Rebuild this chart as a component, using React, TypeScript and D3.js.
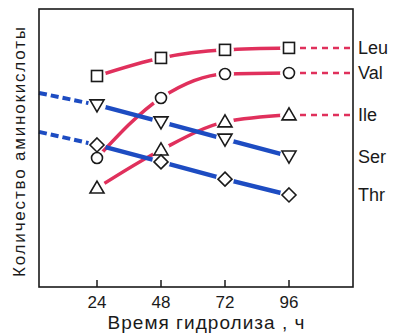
import React from "react";
import * as d3 from "d3";

const hours = [24, 48, 72, 96];
const tickLabels = ["24", "48", "72", "96"];
const leu = [75.9, 82.4, 85.3, 86.0];
const val = [46.4, 68.0, 76.6, 77.0];
const ile = [35.6, 49.3, 59.4, 61.9];
const ser = [65.5, 59.4, 53.2, 47.1];
const thr = [51.1, 45.0, 38.8, 33.1];
const serStart = 69.8;
const thrStart = 55.8;
const names = ["Leu", "Val", "Ile", "Ser", "Thr"];

const W = 396, H = 335;
const left = 39, right = 353, top = 9, bottom = 287;
const RED = "#e0305c";
const BLUE = "#1d4cc2";
const INK = "#1a1a1a";
const FONT = "'Liberation Sans', Arial, sans-serif";

export default function App() {
  const x = d3.scaleLinear().domain([2.25, 120]).range([left, right]);
  const y = d3.scaleLinear().domain([0, 100]).range([bottom, top]);

  const series = [
    { name: "Leu", v: leu, color: RED, shape: "square", kind: "up" },
    { name: "Val", v: val, color: RED, shape: "circle", kind: "up" },
    { name: "Ile", v: ile, color: RED, shape: "triangle", kind: "up" },
    { name: "Ser", v: ser, color: BLUE, shape: "triangleDown", kind: "down", start: serStart },
    { name: "Thr", v: thr, color: BLUE, shape: "diamond", kind: "down", start: thrStart },
  ];

  const curved = d3
    .line<[number, number]>()
    .x((d) => x(d[0]))
    .y((d) => y(d[1]))
    .curve(d3.curveMonotoneX);
  const straight = d3
    .line<[number, number]>()
    .x((d) => x(d[0]))
    .y((d) => y(d[1]));

  const marker = (shape: string, cx: number, cy: number, key: string) => {
    const common = { fill: "#fff", stroke: INK, strokeWidth: 1.6, key };
    if (shape === "square") return <rect {...common} x={cx - 5.5} y={cy - 5.5} width={11} height={11} />;
    if (shape === "circle") return <circle {...common} cx={cx} cy={cy} r={5.5} />;
    if (shape === "triangle")
      return <path {...common} d={`M${cx},${cy - 7}L${cx + 7},${cy + 5}L${cx - 7},${cy + 5}Z`} />;
    if (shape === "triangleDown")
      return <path {...common} d={`M${cx},${cy + 7}L${cx + 7},${cy - 5}L${cx - 7},${cy - 5}Z`} />;
    return <path {...common} d={`M${cx},${cy - 7}L${cx + 7},${cy}L${cx},${cy + 7}L${cx - 7},${cy}Z`} />;
  };

  return (
    <svg width={W} height={H} style={{ position: "absolute", left: 0, top: 0 }}>
      <defs>
        {series.map((s) => (
          <mask id={"m-" + s.name} key={"mask" + s.name} maskUnits="userSpaceOnUse" x={0} y={0} width={W} height={H}>
            <rect x={0} y={0} width={W} height={H} fill="#fff" />
            {hours.map((h, i) => (
              <circle key={i} cx={x(h)} cy={y(s.v[i])} r={9} fill="#000" />
            ))}
          </mask>
        ))}
      </defs>
      <rect x={0} y={0} width={W} height={H} fill="#fff" />
      {series.map((s) => {
        const pts: [number, number][] = hours.map((h, i) => [h, s.v[i]]);
        if (s.kind === "up") {
          return (
            <g key={s.name} mask={`url(#m-${s.name})`}>
              <path d={curved(pts) || ""} fill="none" stroke={s.color} strokeWidth={3.5} />
              <path
                d={straight([[96, s.v[3]], [120, s.v[3]]]) || ""}
                fill="none"
                stroke={s.color}
                strokeWidth={2.5}
                strokeDasharray="6,5"
              />
            </g>
          );
        }
        return (
          <g key={s.name} mask={`url(#m-${s.name})`}>
            <path d={straight(pts) || ""} fill="none" stroke={s.color} strokeWidth={4.5} />
            <path
              d={straight([[2.25, s.start as number], [24, s.v[0]]]) || ""}
              fill="none"
              stroke={s.color}
              strokeWidth={4}
              strokeDasharray="8,4"
            />
          </g>
        );
      })}
      {series.map((s) => hours.map((h, i) => marker(s.shape, x(h), y(s.v[i]), s.name + "m" + i)))}
      <rect x={left} y={top} width={right - left} height={bottom - top} fill="none" stroke={INK} strokeWidth={1.6} />
      {hours.map((h, i) => (
        <g key={"t" + h}>
          <line x1={x(h)} x2={x(h)} y1={bottom} y2={bottom - 7} stroke={INK} strokeWidth={1.5} />
          <text x={x(h)} y={308} textAnchor="middle" fontSize={17} fontFamily={FONT} fill={INK}>
            {tickLabels[i]}
          </text>
        </g>
      ))}
      <text
        x={206}
        y={329}
        textAnchor="middle"
        fontSize={19}
        fontFamily={FONT}
        fill={INK}
        textLength={197}
        lengthAdjust="spacing"
      >
        Время гидролиза , ч
      </text>
      <text
        transform={`translate(25,152) rotate(-90)`}
        textAnchor="middle"
        fontSize={17}
        fontFamily={FONT}
        fill={INK}
        textLength={250}
        lengthAdjust="spacing"
      >
        Количество аминокислоты
      </text>
      {series.map((s, i) => (
        <text key={"lab" + i} x={358} y={y(s.v[3]) + 6.5} fontSize={18} fontFamily={FONT} fill={INK}>
          {names[i]}
        </text>
      ))}
    </svg>
  );
}
